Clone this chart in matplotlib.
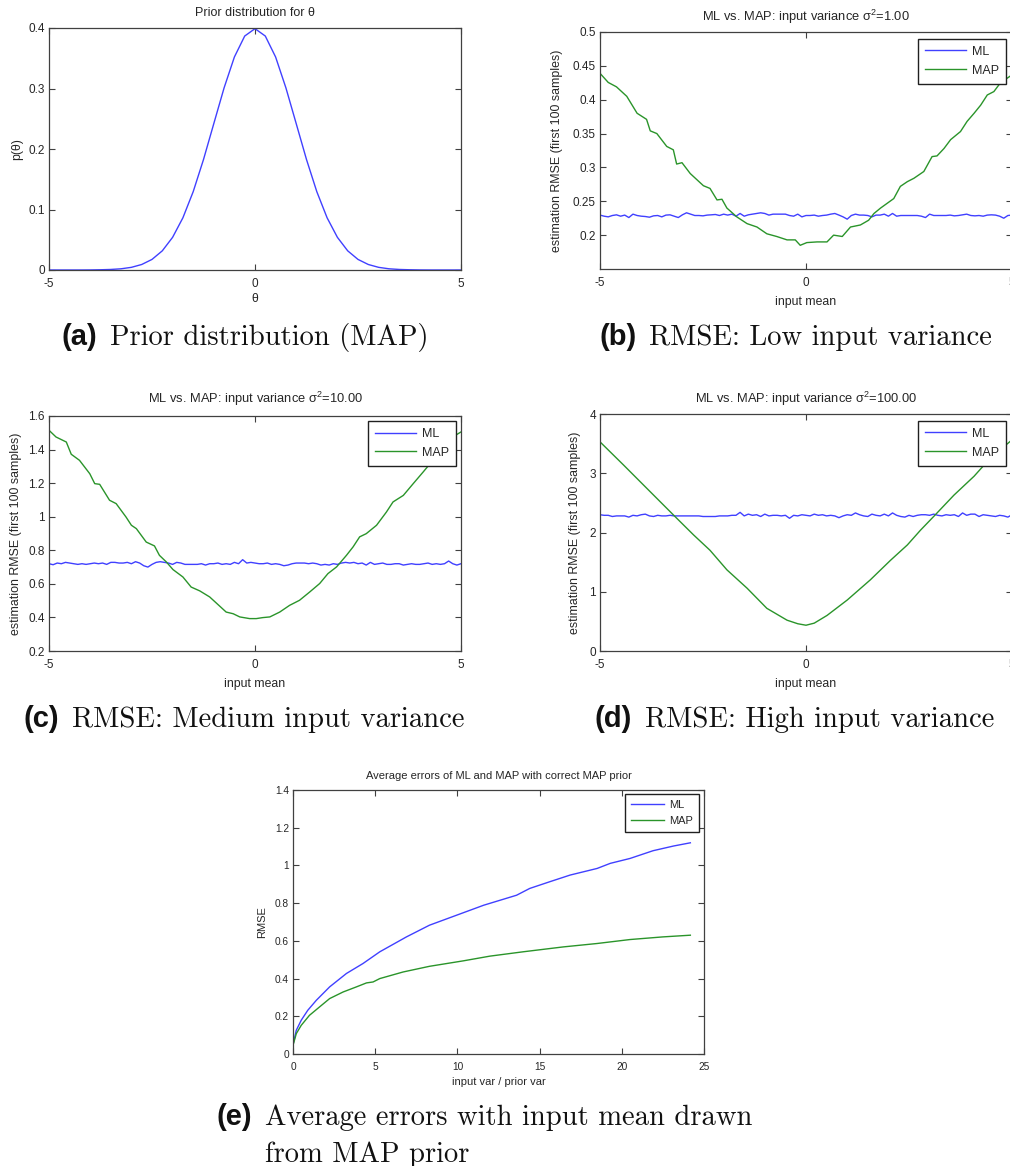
import numpy as np
import matplotlib
matplotlib.use("Agg")
import matplotlib.pyplot as plt
from matplotlib.ticker import FuncFormatter

plt.rcParams['font.family'] = ['Liberation Sans', 'DejaVu Sans']
plt.rcParams['mathtext.fontset'] = 'custom'
plt.rcParams['mathtext.rm'] = 'Liberation Sans'
plt.rcParams['mathtext.it'] = 'Liberation Sans'
plt.rcParams['mathtext.default'] = 'regular'

# ---------------- data ----------------
# (a) prior density over theta
theta = [-5.0, -4.75, -4.5, -4.25, -4.0, -3.75, -3.5, -3.25, -3.0, -2.75, -2.5,
         -2.25, -2.0, -1.75, -1.5, -1.25, -1.0, -0.75, -0.5, -0.25, 0.0,
         0.25, 0.5, 0.75, 1.0, 1.25, 1.5, 1.75, 2.0, 2.25, 2.5,
         2.75, 3.0, 3.25, 3.5, 3.75, 4.0, 4.25, 4.5, 4.75, 5.0]
prior_p = [0.0000, 0.0000, 0.0000, 0.0000, 0.0001, 0.0004, 0.0009, 0.0020, 0.0044, 0.0091, 0.0175,
           0.0317, 0.0540, 0.0863, 0.1295, 0.1826, 0.2420, 0.3011, 0.3521, 0.3867, 0.3989,
           0.3867, 0.3521, 0.3011, 0.2420, 0.1826, 0.1295, 0.0863, 0.0540, 0.0317, 0.0175,
           0.0091, 0.0044, 0.0020, 0.0009, 0.0004, 0.0001, 0.0000, 0.0000, 0.0000, 0.0000]

# input means for the ML curves (101 evaluation points)
mean_grid = np.linspace(-5, 5, 101)

# (b) input variance 1
ml_low = [0.2296, 0.228, 0.227, 0.229, 0.230, 0.228, 0.2296, 0.226, 0.231, 0.229,
          0.228, 0.2275, 0.2265, 0.2285, 0.229, 0.227, 0.2296, 0.230, 0.228, 0.226,
          0.230, 0.233, 0.231, 0.229, 0.229, 0.2285, 0.2296, 0.230, 0.2305, 0.229,
          0.231, 0.2296, 0.231, 0.228, 0.232, 0.228, 0.230, 0.231, 0.232, 0.233,
          0.232, 0.2296, 0.231, 0.231, 0.231, 0.231, 0.229, 0.228, 0.231, 0.227,
          0.229, 0.229, 0.2296, 0.228, 0.229, 0.2296, 0.231, 0.232, 0.2296, 0.227,
          0.2236, 0.229, 0.231, 0.2296, 0.2296, 0.229, 0.227, 0.2296, 0.2296, 0.231,
          0.228, 0.232, 0.228, 0.229, 0.229, 0.229, 0.229, 0.229, 0.228, 0.226,
          0.231, 0.229, 0.229, 0.229, 0.229, 0.2296, 0.2285, 0.229, 0.230, 0.231,
          0.229, 0.2285, 0.229, 0.228, 0.2296, 0.230, 0.2296, 0.228, 0.225, 0.229,
          0.2296]
map_low_x = [-5, -4.8, -4.6, -4.35, -4.1, -3.87, -3.78, -3.62, -3.38, -3.22,
             -3.14, -3.01, -2.81, -2.49, -2.33, -2.16, -2.04, -1.92, -1.68, -1.43,
             -1.19, -0.95, -0.71, -0.46, -0.26, -0.14, 0.02, 0.27, 0.51, 0.67,
             0.88, 1.08, 1.32, 1.52, 1.65, 1.81, 1.97, 2.13, 2.29, 2.46,
             2.62, 2.86, 3.06, 3.18, 3.35, 3.51, 3.75, 3.91, 4.08, 4.24,
             4.40, 4.56, 4.72, 4.96, 5.0]
map_low = [0.439, 0.4255, 0.419, 0.405, 0.380, 0.371, 0.354, 0.350, 0.331, 0.326,
           0.305, 0.307, 0.291, 0.273, 0.269, 0.252, 0.253, 0.240, 0.227, 0.217,
           0.212, 0.202, 0.198, 0.193, 0.193, 0.185, 0.189, 0.190, 0.190, 0.200,
           0.198, 0.212, 0.215, 0.222, 0.232, 0.240, 0.247, 0.254, 0.272, 0.279,
           0.284, 0.294, 0.316, 0.317, 0.328, 0.341, 0.353, 0.368, 0.380, 0.392,
           0.407, 0.412, 0.425, 0.435, 0.437]

# (c) input variance 10
ml_mid = [0.720, 0.714, 0.724, 0.720, 0.728, 0.724, 0.720, 0.716, 0.720, 0.716,
          0.720, 0.724, 0.720, 0.724, 0.716, 0.728, 0.728, 0.724, 0.724, 0.728,
          0.720, 0.732, 0.724, 0.708, 0.700, 0.716, 0.728, 0.732, 0.728, 0.724,
          0.716, 0.728, 0.724, 0.716, 0.716, 0.716, 0.716, 0.720, 0.712, 0.720,
          0.720, 0.724, 0.716, 0.720, 0.716, 0.728, 0.720, 0.744, 0.724, 0.728,
          0.724, 0.720, 0.720, 0.724, 0.716, 0.720, 0.716, 0.708, 0.712, 0.720,
          0.724, 0.724, 0.724, 0.720, 0.724, 0.720, 0.712, 0.716, 0.712, 0.720,
          0.716, 0.724, 0.728, 0.724, 0.728, 0.720, 0.724, 0.712, 0.728, 0.716,
          0.720, 0.724, 0.716, 0.716, 0.720, 0.720, 0.712, 0.716, 0.720, 0.716,
          0.716, 0.720, 0.724, 0.716, 0.720, 0.716, 0.720, 0.736, 0.720, 0.712,
          0.720]
map_mid_x = [-5, -4.83, -4.58, -4.46, -4.26, -4.01, -3.89, -3.77, -3.53, -3.37,
             -3.13, -3.0, -2.88, -2.64, -2.44, -2.32, -2.15, -1.99, -1.75, -1.55,
             -1.34, -1.10, -0.94, -0.70, -0.53, -0.37, -0.13, 0.03, 0.19, 0.36,
             0.60, 0.84, 1.08, 1.33, 1.57, 1.77, 1.98, 2.22, 2.38, 2.54,
             2.70, 2.95, 3.19, 3.35, 3.60, 3.84, 4.08, 4.25, 4.49, 4.73, 5.0]
map_mid = [1.515, 1.475, 1.445, 1.372, 1.336, 1.256, 1.197, 1.193, 1.098, 1.078,
           0.998, 0.949, 0.929, 0.849, 0.826, 0.770, 0.730, 0.685, 0.641, 0.581,
           0.558, 0.522, 0.486, 0.432, 0.422, 0.403, 0.393, 0.393, 0.399, 0.403,
           0.432, 0.472, 0.502, 0.552, 0.602, 0.661, 0.701, 0.770, 0.820, 0.880,
           0.899, 0.949, 1.028, 1.088, 1.127, 1.197, 1.266, 1.316, 1.396, 1.465, 1.505]

# (d) input variance 100
ml_high = [2.30, 2.29, 2.29, 2.27, 2.28, 2.28, 2.28, 2.26, 2.29, 2.28,
           2.30, 2.31, 2.28, 2.27, 2.29, 2.28, 2.28, 2.29, 2.28, 2.28,
           2.28, 2.28, 2.28, 2.28, 2.28, 2.27, 2.27, 2.27, 2.27, 2.28,
           2.28, 2.28, 2.29, 2.29, 2.34, 2.28, 2.31, 2.29, 2.30, 2.27,
           2.31, 2.28, 2.29, 2.29, 2.28, 2.29, 2.24, 2.29, 2.28, 2.30,
           2.29, 2.28, 2.31, 2.29, 2.30, 2.28, 2.29, 2.28, 2.25, 2.28,
           2.30, 2.29, 2.33, 2.30, 2.28, 2.27, 2.31, 2.29, 2.28, 2.31,
           2.28, 2.33, 2.29, 2.27, 2.26, 2.29, 2.27, 2.29, 2.30, 2.30,
           2.29, 2.31, 2.29, 2.28, 2.30, 2.29, 2.30, 2.27, 2.33, 2.29,
           2.31, 2.31, 2.27, 2.30, 2.29, 2.28, 2.27, 2.29, 2.28, 2.26,
           2.30]
map_high_x = [-5, -4.43, -3.87, -3.18, -2.73, -2.33, -1.92, -1.43, -0.95, -0.46, -0.2,
              0.0, 0.2, 0.51, 1.0, 1.56, 2.05, 2.46, 2.78, 3.14, 3.59, 4.08, 4.48, 4.96, 5.0]
map_high = [3.53, 3.14, 2.75, 2.27, 1.96, 1.70, 1.37, 1.06, 0.72, 0.52, 0.46,
            0.435, 0.47, 0.60, 0.86, 1.20, 1.53, 1.79, 2.04, 2.30, 2.63, 2.95, 3.26, 3.54, 3.56]

# (e) average errors vs. variance ratio
ratio_ml = [0.04, 0.2, 0.5, 0.9, 1.42, 2.23, 3.25, 4.26, 5.28, 6.9, 8.3, 9.95,
            11.6, 13.6, 14.4, 15.6, 16.86, 18.5, 19.3, 20.5, 21.9, 23.15, 24.17]
avg_ml = [0.064, 0.126, 0.179, 0.232, 0.285, 0.356, 0.427, 0.480, 0.542, 0.621, 0.683, 0.736,
          0.789, 0.842, 0.878, 0.913, 0.949, 0.984, 1.011, 1.037, 1.078, 1.103, 1.120]
ratio_map = [0.04, 0.2, 0.5, 1.0, 1.62, 2.23, 3.05, 3.86, 4.47, 4.87, 5.28, 6.7,
             8.3, 10.36, 11.98, 14.0, 16.45, 18.5, 20.5, 22.5, 24.17]
avg_map = [0.058, 0.108, 0.152, 0.205, 0.250, 0.294, 0.329, 0.356, 0.377, 0.382, 0.400, 0.435,
           0.465, 0.494, 0.519, 0.542, 0.568, 0.586, 0.607, 0.621, 0.630]

series_labels = ['ML', 'MAP']

# ---------------- styling ----------------
BLUE = '#4040ff'
GREEN = '#2a942a'
TXT = '#262626'
SPINE = '#404040'

W, H = 1010, 1166
fig = plt.figure(figsize=(W / 100, H / 100), dpi=100)


def add_axes_px(left, top, right, bottom):
    return fig.add_axes([left / W, 1 - bottom / H, (right - left) / W, (bottom - top) / H])


gfmt = FuncFormatter(lambda v, p: ('%g' % round(v, 6)))


def style(ax, fs):
    for s in ax.spines.values():
        s.set_color(SPINE)
        s.set_linewidth(0.9)
    ax.tick_params(direction='in', length=4.5, width=0.8, colors=SPINE,
                   labelcolor=TXT, labelsize=fs, top=True, right=True)
    ax.tick_params(axis='x', pad=6)
    ax.tick_params(axis='y', pad=3)
    ax.xaxis.set_major_formatter(gfmt)
    ax.yaxis.set_major_formatter(gfmt)


def add_legend(ax, anchor, fs, hl):
    leg = ax.legend(series_labels, loc='upper right', bbox_to_anchor=anchor,
                    borderaxespad=0, fancybox=False, framealpha=1, edgecolor='#202020',
                    fontsize=fs, handlelength=hl, handletextpad=0.45, borderpad=0.55,
                    labelspacing=0.55)
    leg.get_frame().set_linewidth(1.0)
    for t in leg.get_texts():
        t.set_color(TXT)


# (a) prior
ax = add_axes_px(49, 28, 461, 270)
ax.plot(theta, prior_p, color=BLUE, lw=1.0)
ax.set_xlim(-5, 5)
ax.set_ylim(0, 0.4)
ax.set_xticks([-5, 0, 5])
ax.set_yticks([0, 0.1, 0.2, 0.3, 0.4])
style(ax, 8.5)
ax.set_title('Prior distribution for θ', fontsize=9, color=TXT, pad=9)
ax.set_xlabel('θ', fontsize=8.8, color=TXT)
ax.set_ylabel('p(θ)', fontsize=8.8, color=TXT)
ax.xaxis.set_label_coords(0.5, -0.095)
ax.yaxis.set_label_coords(-0.063, 0.5)

# (b)-(d) RMSE vs. input mean
panels = [
    ((600, 32, 1012, 269), ml_low, map_low_x, map_low, (0.15, 0.5),
     [0.2, 0.25, 0.3, 0.35, 0.4, 0.45, 0.5], '1.00', (0.9854, 0.9705), 8, -0.09),
    ((49, 416, 461, 651), ml_mid, map_mid_x, map_mid, (0.2, 1.6),
     [0.2, 0.4, 0.6, 0.8, 1.0, 1.2, 1.4, 1.6], '10.00', (0.9879, 0.9787), 9.6, -0.066),
    ((600, 414, 1012, 651), ml_high, map_high_x, map_high, (0, 4),
     [0, 1, 2, 3, 4], '100.00', (0.9854, 0.9705), 8.1, -0.046),
]
for box, ml, mx, mp, ylim, yt, var, anchor, tpad, ylx in panels:
    ax = add_axes_px(*box)
    ax.plot(mean_grid, ml, color=BLUE, lw=1.0)
    ax.plot(mx, mp, color=GREEN, lw=1.0)
    ax.set_xlim(-5, 5)
    ax.set_ylim(*ylim)
    ax.set_xticks([-5, 0, 5])
    ax.set_yticks(yt)
    style(ax, 8.5)
    ax.set_title('ML vs. MAP: input variance $\\sigma^{2}$=' + var, fontsize=9.3,
                 color=TXT, pad=tpad)
    ax.set_xlabel('input mean', fontsize=8.8, color=TXT)
    ax.set_ylabel('estimation RMSE (first 100 samples)', fontsize=8.9, color=TXT)
    ax.xaxis.set_label_coords(0.5, -0.115)
    ax.yaxis.set_label_coords(ylx, 0.5)
    add_legend(ax, anchor, 9, 3.3)

# (e) average errors
ax = add_axes_px(293, 790, 704, 1054)
ax.plot(ratio_ml, avg_ml, color=BLUE, lw=1.0)
ax.plot(ratio_map, avg_map, color=GREEN, lw=1.0)
ax.set_xlim(0, 25)
ax.set_ylim(0, 1.4)
ax.set_xticks([0, 5, 10, 15, 20, 25])
ax.set_yticks([0, 0.2, 0.4, 0.6, 0.8, 1.0, 1.2, 1.4])
style(ax, 7.3)
ax.set_title('Average errors of ML and MAP with correct MAP prior', fontsize=8,
             color=TXT, pad=8)
ax.set_xlabel('input var / prior var', fontsize=8, color=TXT)
ax.set_ylabel('RMSE', fontsize=8, color=TXT)
ax.xaxis.set_label_coords(0.5, -0.087)
ax.yaxis.set_label_coords(-0.063, 0.5)
add_legend(ax, (0.9878, 0.985), 8, 3.0)

# ---------------- sub-figure captions ----------------
CAP_SIZE = 20.6


def caption(tag, text, x_tag_right, x_text, y_base, more=None):
    fig.text(x_tag_right / W, 1 - y_base / H, tag, ha='right', va='baseline',
             fontsize=21, fontweight='bold', family='Liberation Sans', color='#111111')
    fig.text(x_text / W, 1 - y_base / H, text, ha='left', va='baseline',
             fontsize=CAP_SIZE, family='cmr10', color='#111111')
    if more:
        fig.text(x_text / W, 1 - more[1] / H, more[0], ha='left', va='baseline',
                 fontsize=CAP_SIZE, family='cmr10', color='#111111')


caption('(a)', 'Prior distribution (MAP)', 97, 110, 345)
caption('(b)', 'RMSE: Low input variance', 637, 649, 345)
caption('(c)', 'RMSE: Medium input variance', 59, 72, 727)
caption('(d)', 'RMSE: High input variance', 632, 645, 727)
caption('(e)', 'Average errors with input mean drawn', 252, 265, 1125,
        more=('from MAP prior', 1162))

fig.savefig('out.png', dpi=100)
